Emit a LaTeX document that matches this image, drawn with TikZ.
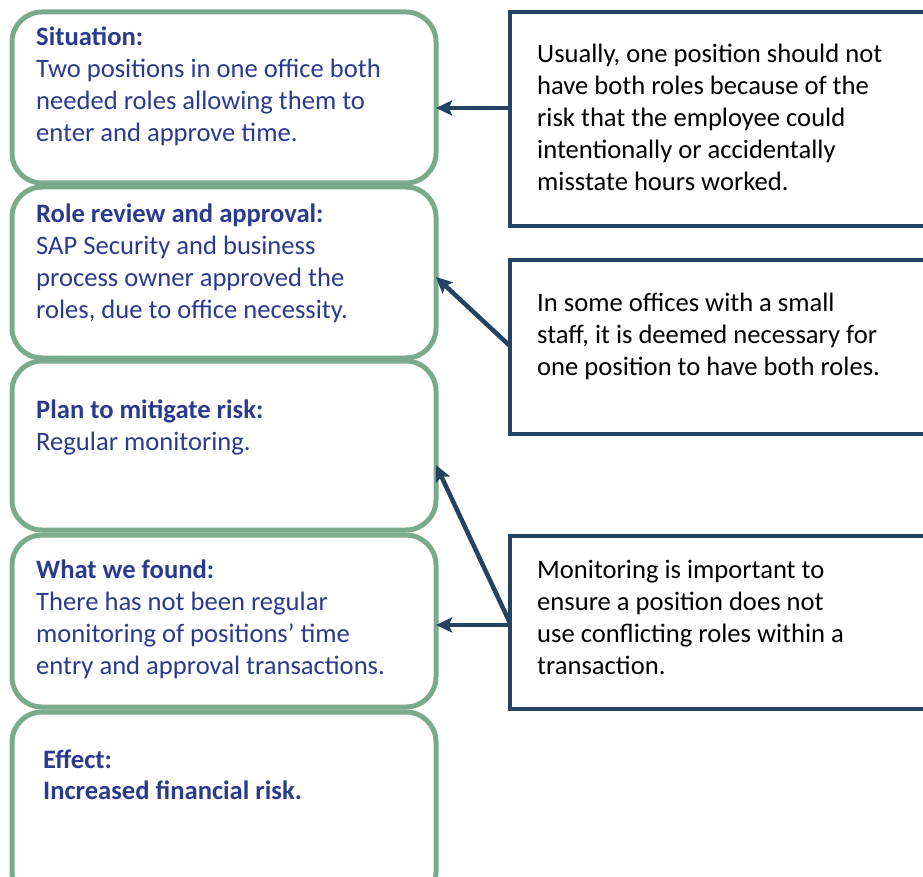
\documentclass[tikz,border=0pt]{standalone}
\usepackage{fontspec}
\setmainfont{Carlito}
\usetikzlibrary{arrows.meta}
\definecolor{stepgreen}{HTML}{7AAA8C}
\definecolor{notenavy}{HTML}{244262}
\definecolor{stepblue}{HTML}{2B3A8E}
% lines of a text block, aligned on the baseline of the first line
\newcommand{\textlines}[1]{\begin{tabular}[t]{@{}l@{}}#1\end{tabular}}
\begin{document}
\begin{tikzpicture}[x=1pt,y=-1pt,
  gbox/.style={draw=stepgreen, line width=5pt, rounded corners=30pt, fill=white,
    inner sep=0pt, outer sep=0pt},
  nbox/.style={draw=notenavy, line width=4.5pt, fill=white, inner sep=0pt, outer sep=0pt},
  steptext/.style={anchor=base west, inner sep=0pt, text=stepblue,
    font=\fontsize{26.6}{32}\selectfont},
  notetext/.style={anchor=base west, inner sep=0pt, text=black,
    font=\fontsize{26.6}{32}\selectfont},
  arr/.style={draw=notenavy, line width=4.5pt,
    -{Stealth[length=16pt,width=15pt,inset=3pt]}}]
\useasboundingbox (0,0) rectangle (923,877);
\begin{scope}
\clip (0,0) rectangle (923,877);
% left column: rounded step boxes
\node[gbox, minimum width=424pt, minimum height=171pt] (g1) at (224,97.5) {};
\node[gbox, minimum width=424pt, minimum height=171pt] (g2) at (224,272.5) {};
\node[gbox, minimum width=424pt, minimum height=169pt] (g3) at (224,445.5) {};
\node[gbox, minimum width=424pt, minimum height=172pt] (g4) at (224,621) {};
\node[gbox, minimum width=424pt, minimum height=190pt] (g5) at (224,807) {};
% right column: explanatory notes
\node[nbox, minimum width=430pt, minimum height=214pt] (nA) at (725,119) {};
\node[nbox, minimum width=430pt, minimum height=174pt] (nB) at (725,347) {};
\node[nbox, minimum width=430pt, minimum height=173pt] (nC) at (725,622.5) {};
\end{scope}
% step texts
\node[steptext] (t1) at (36,46) {\textlines{\textbf{Situation:}\\Two positions in one office both\\needed roles allowing them to\\enter and approve time.}};
\node[steptext] (t2) at (36,223) {\textlines{\textbf{Role review and approval:}\\SAP Security and business\\process owner approved the\\roles, due to office necessity.}};
\node[steptext] (t3) at (36,418) {\textlines{\textbf{Plan to mitigate risk:}\\Regular monitoring.}};
\node[steptext] (t4) at (36,578) {\textlines{\textbf{What we found:}\\There has not been regular\\monitoring of positions’ time\\entry and approval transactions.}};
\node[steptext, font=\fontsize{26.6}{31}\selectfont\bfseries] (t5) at (43,768) {\textlines{Effect:\\Increased financial risk.}};
% note texts
\node[notetext] (tA) at (537,63) {\textlines{Usually, one position should not\\have both roles because of the\\risk that the employee could\\intentionally or accidentally\\misstate hours worked.}};
\node[notetext] (tB) at (537,311) {\textlines{In some offices with a small\\staff, it is deemed necessary for\\one position to have both roles.}};
\node[notetext] (tC) at (537,578) {\textlines{Monitoring is important to\\ensure a position does not\\use conflicting roles within a\\transaction.}};
% connector end points on the box borders
\coordinate (a1s) at (nA.west |- 0,108);
\coordinate (a1e) at (g1.east |- 0,108);
\coordinate (a2s) at (nB.west |- 0,346);
\coordinate (a2e) at (g2.east |- 0,277);
\coordinate (a3s) at (nC.west |- 0,623);
\coordinate (a3e) at (g3.east |- 0,465);
\coordinate (a4s) at (nC.west |- 0,625);
\coordinate (a4e) at (g4.east |- 0,625);
\draw[arr] (a1s) -- (a1e);
\draw[arr] (a2s) -- (a2e);
\draw[arr] (a3s) -- (a3e);
\draw[arr] (a4s) -- (a4e);
\end{tikzpicture}
\end{document}
